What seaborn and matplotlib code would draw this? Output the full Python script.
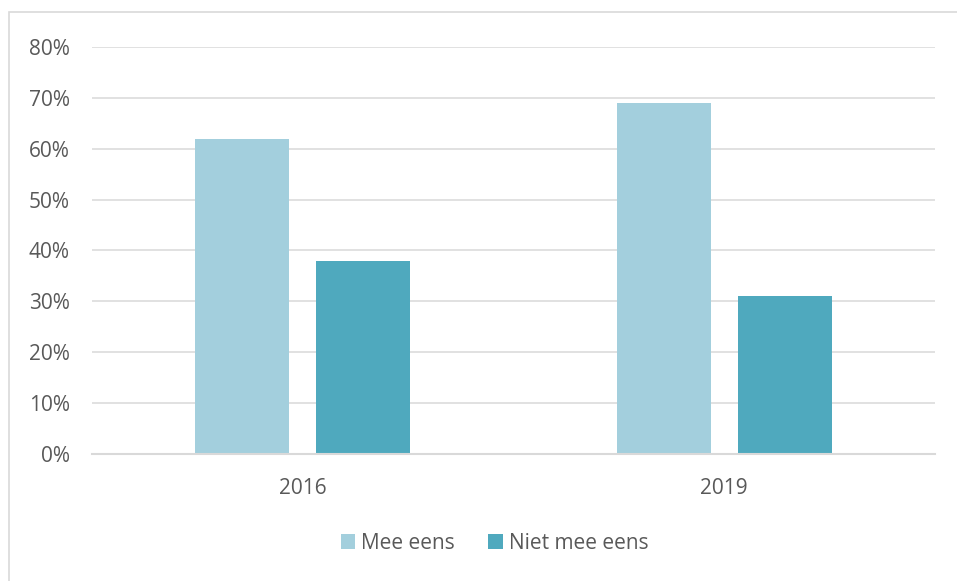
import pandas as pd
import matplotlib.pyplot as plt
import seaborn as sns
from matplotlib.patches import Rectangle
from matplotlib.ticker import PercentFormatter

# data
years = ["2016", "2019"]
mee_eens = [62, 69]
niet_mee_eens = [38, 31]
series_names = ["Mee eens", "Niet mee eens"]

df = pd.DataFrame({
    "Jaar": years * 2,
    "Antwoord": [series_names[0]] * 2 + [series_names[1]] * 2,
    "Percentage": mee_eens + niet_mee_eens,
})

sns.set_theme(style="white")
plt.rcParams["font.family"] = ["Open Sans", "DejaVu Sans"]
text_col = "#595959"
grid_col = "#D9D9D9"

fig = plt.figure(figsize=(9.57, 5.81), dpi=100)
ax = fig.add_axes([0.0961, 0.2186, 0.977 - 0.0961, 0.9191 - 0.2186])

sns.barplot(data=df, x="Jaar", y="Percentage", hue="Antwoord",
            palette=["#A3CFDD", "#4FA9BE"], width=0.574, gap=0.223,
            saturation=1, linewidth=0, ax=ax, legend=True)

ax.set_ylim(0, 80)
ax.set_xlim(-0.5, 1.5)
ax.set_yticks(range(0, 81, 10))
ax.yaxis.set_major_formatter(PercentFormatter(decimals=0))
ax.grid(axis="y", color=grid_col, linewidth=1.1)
ax.set_axisbelow(True)
for s in ["top", "right", "left"]:
    ax.spines[s].set_visible(False)
ax.spines["bottom"].set_color(grid_col)
ax.spines["bottom"].set_linewidth(1.5)
ax.tick_params(axis="y", length=0, pad=16, labelsize=15, labelcolor=text_col)
ax.tick_params(axis="x", length=0, pad=17, labelsize=15, labelcolor=text_col)
ax.set_xlabel("")
ax.set_ylabel("")

handles, labels = ax.get_legend_handles_labels()
ax.get_legend().remove()
leg = fig.legend(handles, labels, loc="center", bbox_to_anchor=(0.517, 0.065),
                 ncol=2, frameon=False, fontsize=15, handlelength=0.7,
                 handleheight=0.7, handletextpad=0.3, columnspacing=1.6)
for t in leg.get_texts():
    t.set_color(text_col)

# chart frame (only left and top edges are visible in the crop)
fig.patches.append(Rectangle((9 / 957, -0.1), 1.2, 1.1 - 12 / 581,
                             transform=fig.transFigure, fill=False,
                             edgecolor=grid_col, linewidth=1.2))

fig.savefig("out.png", dpi=100)
